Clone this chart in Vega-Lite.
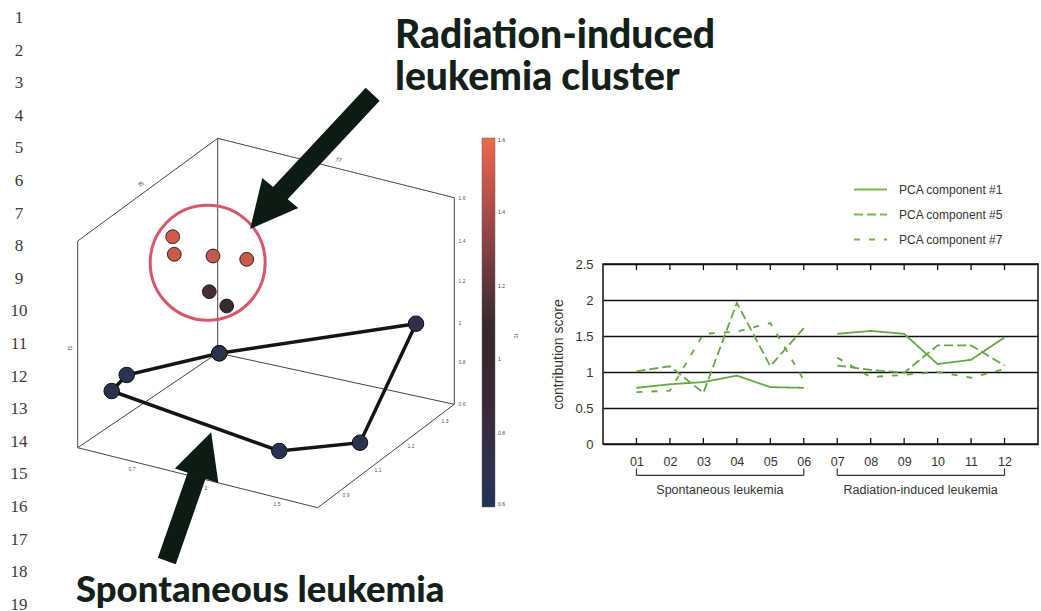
{
  "$schema": "https://vega.github.io/schema/vega-lite/v6.json",
  "padding": 0,
  "autosize": {"type": "pad"},
  "background": "white",
  "bounds": "flush",
  "spacing": 62,
  "config": {"view": {"stroke": null}, "font": "Liberation Sans"},
  "resolve": {
    "scale": {"color": "independent", "strokeDash": "independent", "x": "independent", "y": "independent"},
    "legend": {"color": "independent", "strokeDash": "independent"}
  },
  "datasets": {
    "anchor": [{"x": 0, "y": 0}],
    "lineNumbers": [
      {"n": "1", "x": 18, "y": 17}, {"n": "2", "x": 18, "y": 50}, {"n": "3", "x": 18, "y": 82},
      {"n": "4", "x": 18, "y": 115}, {"n": "5", "x": 18, "y": 147}, {"n": "6", "x": 18, "y": 180},
      {"n": "7", "x": 18, "y": 213}, {"n": "8", "x": 18, "y": 245}, {"n": "9", "x": 18, "y": 278},
      {"n": "10", "x": 18, "y": 310}, {"n": "11", "x": 18, "y": 343}, {"n": "12", "x": 18, "y": 376},
      {"n": "13", "x": 18, "y": 408}, {"n": "14", "x": 18, "y": 441}, {"n": "15", "x": 18, "y": 473},
      {"n": "16", "x": 18, "y": 506}, {"n": "17", "x": 18, "y": 539}, {"n": "18", "x": 18, "y": 571},
      {"n": "19", "x": 18, "y": 604}
    ],
    "boxEdges": [
      {"x": 216.7, "y": 137.3, "x2": 76.7, "y2": 240},
      {"x": 216.7, "y": 137.3, "x2": 453.3, "y2": 196.7},
      {"x": 216.7, "y": 137.3, "x2": 216.7, "y2": 352},
      {"x": 76.7, "y": 240, "x2": 76.7, "y2": 446.7},
      {"x": 453.3, "y": 196.7, "x2": 453.3, "y2": 403.3},
      {"x": 76.7, "y": 446.7, "x2": 316.7, "y2": 506.7},
      {"x": 316.7, "y": 506.7, "x2": 453.3, "y2": 403.3},
      {"x": 216.7, "y": 352, "x2": 76.7, "y2": 446.7},
      {"x": 216.7, "y": 352, "x2": 453.3, "y2": 403.3}
    ],
    "tickLabels": [
      {"t": "1.6", "x": 461, "y": 197}, {"t": "1.4", "x": 461, "y": 240}, {"t": "1.2", "x": 461, "y": 280},
      {"t": "1", "x": 459, "y": 322}, {"t": "0.8", "x": 461, "y": 361}, {"t": "0.6", "x": 461, "y": 403},
      {"t": "0.7", "x": 131, "y": 468}, {"t": "2", "x": 205, "y": 487}, {"t": "1.5", "x": 276, "y": 503},
      {"t": "0.9", "x": 345, "y": 494}, {"t": "1.1", "x": 377, "y": 469}, {"t": "1.2", "x": 410, "y": 445},
      {"t": "1.3", "x": 444, "y": 420}
    ],
    "nameF5": [{"t": "f5", "x": 140, "y": 183}],
    "nameF7": [{"t": "f7", "x": 338, "y": 159}],
    "nameF1": [{"t": "f1", "x": 69, "y": 347}],
    "nameBar": [{"t": "f1", "x": 515, "y": 335}],
    "spontaneous": [
      {"o": 1, "x": 218.3, "y": 352.3, "f1": 0.68},
      {"o": 2, "x": 125.7, "y": 374, "f1": 0.66},
      {"o": 3, "x": 110.7, "y": 390, "f1": 0.67},
      {"o": 4, "x": 278.3, "y": 450, "f1": 0.65},
      {"o": 5, "x": 359, "y": 441.7, "f1": 0.68},
      {"o": 6, "x": 415, "y": 322.7, "f1": 0.7},
      {"o": 7, "x": 218.3, "y": 352.3, "f1": 0.68}
    ],
    "cluster": [
      {"x": 171.7, "y": 235.7, "f1": 1.52},
      {"x": 173.3, "y": 253.3, "f1": 1.5},
      {"x": 212, "y": 255, "f1": 1.48},
      {"x": 245.7, "y": 258.3, "f1": 1.5},
      {"x": 208.3, "y": 290.7, "f1": 1.13},
      {"x": 225.7, "y": 305, "f1": 1.09}
    ],
    "ring": [{"x": 206.7, "y": 261.7}],
    "shafts": [
      {"x": 371.7, "y": 93.3, "x2": 278.3, "y2": 193.3},
      {"x": 165.8, "y": 560, "x2": 195.8, "y2": 474.2}
    ],
    "headDown": [{"x": 264.2, "y": 210}],
    "headUp": [{"x": 202.9, "y": 453}],
    "titles": [
      {"t": "Radiation-induced", "x": 394, "y": 47},
      {"t": "leukemia cluster", "x": 394, "y": 89}
    ],
    "titleBottom": [{"t": "Spontaneous leukemia", "x": 75, "y": 601}],
    "scores": [
      {"s": "01", "g": "S", "c": "PCA component #1", "v": 0.78},
      {"s": "02", "g": "S", "c": "PCA component #1", "v": 0.83},
      {"s": "03", "g": "S", "c": "PCA component #1", "v": 0.86},
      {"s": "04", "g": "S", "c": "PCA component #1", "v": 0.95},
      {"s": "05", "g": "S", "c": "PCA component #1", "v": 0.79},
      {"s": "06", "g": "S", "c": "PCA component #1", "v": 0.78},
      {"s": "07", "g": "R", "c": "PCA component #1", "v": 1.53},
      {"s": "08", "g": "R", "c": "PCA component #1", "v": 1.57},
      {"s": "09", "g": "R", "c": "PCA component #1", "v": 1.53},
      {"s": "10", "g": "R", "c": "PCA component #1", "v": 1.11},
      {"s": "11", "g": "R", "c": "PCA component #1", "v": 1.17},
      {"s": "12", "g": "R", "c": "PCA component #1", "v": 1.48},
      {"s": "01", "g": "S", "c": "PCA component #5", "v": 1.01},
      {"s": "02", "g": "S", "c": "PCA component #5", "v": 1.08},
      {"s": "03", "g": "S", "c": "PCA component #5", "v": 0.71},
      {"s": "04", "g": "S", "c": "PCA component #5", "v": 1.96},
      {"s": "05", "g": "S", "c": "PCA component #5", "v": 1.08},
      {"s": "06", "g": "S", "c": "PCA component #5", "v": 1.61},
      {"s": "07", "g": "R", "c": "PCA component #5", "v": 1.09},
      {"s": "08", "g": "R", "c": "PCA component #5", "v": 1.03},
      {"s": "09", "g": "R", "c": "PCA component #5", "v": 0.99},
      {"s": "10", "g": "R", "c": "PCA component #5", "v": 1.37},
      {"s": "11", "g": "R", "c": "PCA component #5", "v": 1.37},
      {"s": "12", "g": "R", "c": "PCA component #5", "v": 1.09},
      {"s": "01", "g": "S", "c": "PCA component #7", "v": 0.72},
      {"s": "02", "g": "S", "c": "PCA component #7", "v": 0.74},
      {"s": "03", "g": "S", "c": "PCA component #7", "v": 1.53},
      {"s": "04", "g": "S", "c": "PCA component #7", "v": 1.56},
      {"s": "05", "g": "S", "c": "PCA component #7", "v": 1.68},
      {"s": "06", "g": "S", "c": "PCA component #7", "v": 0.89},
      {"s": "07", "g": "R", "c": "PCA component #7", "v": 1.2},
      {"s": "08", "g": "R", "c": "PCA component #7", "v": 0.93},
      {"s": "09", "g": "R", "c": "PCA component #7", "v": 0.96},
      {"s": "10", "g": "R", "c": "PCA component #7", "v": 1.0},
      {"s": "11", "g": "R", "c": "PCA component #7", "v": 0.92},
      {"s": "12", "g": "R", "c": "PCA component #7", "v": 1.04}
    ],
    "marks": [
      {"s": "01", "lo": 0, "hi": 0.085, "top": 2.5, "tlo": 2.415},
      {"s": "02", "lo": 0, "hi": 0.085, "top": 2.5, "tlo": 2.415},
      {"s": "03", "lo": 0, "hi": 0.085, "top": 2.5, "tlo": 2.415},
      {"s": "04", "lo": 0, "hi": 0.085, "top": 2.5, "tlo": 2.415},
      {"s": "05", "lo": 0, "hi": 0.085, "top": 2.5, "tlo": 2.415},
      {"s": "06", "lo": 0, "hi": 0.085, "top": 2.5, "tlo": 2.415},
      {"s": "07", "lo": 0, "hi": 0.085, "top": 2.5, "tlo": 2.415},
      {"s": "08", "lo": 0, "hi": 0.085, "top": 2.5, "tlo": 2.415},
      {"s": "09", "lo": 0, "hi": 0.085, "top": 2.5, "tlo": 2.415},
      {"s": "10", "lo": 0, "hi": 0.085, "top": 2.5, "tlo": 2.415},
      {"s": "11", "lo": 0, "hi": 0.085, "top": 2.5, "tlo": 2.415},
      {"s": "12", "lo": 0, "hi": 0.085, "top": 2.5, "tlo": 2.415}
    ],
    "bracketEnds": [
      {"s": "01", "lo": -0.435, "hi": -0.34}, {"s": "06", "lo": -0.435, "hi": -0.34},
      {"s": "07", "lo": -0.435, "hi": -0.34}, {"s": "12", "lo": -0.435, "hi": -0.34}
    ],
    "brackets": [
      {"s": "01", "b": "06", "lo": -0.435, "ty": -0.633, "label": "Spontaneous leukemia", "mid": "03"},
      {"s": "07", "b": "12", "lo": -0.435, "ty": -0.633, "label": "Radiation-induced leukemia", "mid": "09"}
    ]
  },
  "hconcat": [
    {
      "width": 540,
      "height": 180,
      "view": {"stroke": null},
      "layer": [
        {
          "data": {"name": "anchor"},
          "mark": {"type": "point", "size": 1, "opacity": 0},
          "encoding": {
            "x": {"field": "x", "type": "quantitative", "scale": {"domain": [0, 540], "nice": false, "zero": false}, "axis": null},
            "y": {"field": "y", "type": "quantitative", "scale": {"domain": [263, 443], "reverse": true, "nice": false, "zero": false}, "axis": null}
          }
        },
        {
          "data": {"name": "lineNumbers"},
          "mark": {"type": "text", "font": "Liberation Serif", "fontSize": 17, "color": "#3a3a3a", "align": "center", "baseline": "middle"},
          "encoding": {
            "x": {"field": "x", "type": "quantitative", "axis": null},
            "y": {"field": "y", "type": "quantitative", "axis": null},
            "text": {"field": "n"}
          }
        },
        {
          "data": {"name": "boxEdges"},
          "mark": {"type": "rule", "color": "#444", "strokeWidth": 1},
          "encoding": {
            "x": {"field": "x", "type": "quantitative", "axis": null},
            "y": {"field": "y", "type": "quantitative", "axis": null},
            "x2": {"field": "x2"},
            "y2": {"field": "y2"}
          }
        },
        {
          "data": {"name": "tickLabels"},
          "mark": {"type": "text", "fontSize": 5, "color": "#555", "align": "center", "baseline": "middle"},
          "encoding": {
            "x": {"field": "x", "type": "quantitative", "axis": null},
            "y": {"field": "y", "type": "quantitative", "axis": null},
            "text": {"field": "t"}
          }
        },
        {
          "data": {"name": "nameF5"},
          "mark": {"type": "text", "fontSize": 6, "color": "#444", "angle": 323, "align": "center", "baseline": "middle"},
          "encoding": {"x": {"field": "x", "type": "quantitative", "axis": null}, "y": {"field": "y", "type": "quantitative", "axis": null}, "text": {"field": "t"}}
        },
        {
          "data": {"name": "nameF7"},
          "mark": {"type": "text", "fontSize": 6, "color": "#444", "angle": 14, "align": "center", "baseline": "middle"},
          "encoding": {"x": {"field": "x", "type": "quantitative", "axis": null}, "y": {"field": "y", "type": "quantitative", "axis": null}, "text": {"field": "t"}}
        },
        {
          "data": {"name": "nameF1"},
          "mark": {"type": "text", "fontSize": 6, "color": "#444", "angle": 270, "align": "center", "baseline": "middle"},
          "encoding": {"x": {"field": "x", "type": "quantitative", "axis": null}, "y": {"field": "y", "type": "quantitative", "axis": null}, "text": {"field": "t"}}
        },
        {
          "data": {"name": "nameBar"},
          "mark": {"type": "text", "fontSize": 6, "color": "#444", "angle": 90, "align": "center", "baseline": "middle"},
          "encoding": {"x": {"field": "x", "type": "quantitative", "axis": null}, "y": {"field": "y", "type": "quantitative", "axis": null}, "text": {"field": "t"}}
        },
        {
          "data": {"name": "spontaneous"},
          "mark": {"type": "line", "color": "#151515", "strokeWidth": 3.5},
          "encoding": {
            "x": {"field": "x", "type": "quantitative", "axis": null},
            "y": {"field": "y", "type": "quantitative", "axis": null},
            "order": {"field": "o", "type": "quantitative"}
          }
        },
        {
          "data": {"name": "spontaneous"},
          "mark": {"type": "point", "filled": true, "size": 240, "stroke": "#111", "strokeWidth": 1, "opacity": 1},
          "encoding": {
            "x": {"field": "x", "type": "quantitative", "axis": null},
            "y": {"field": "y", "type": "quantitative", "axis": null},
            "color": {
              "field": "f1", "type": "quantitative",
              "scale": {"domain": [0.6, 1.08, 1.6], "range": ["#1c3653", "#33282a", "#ee6a46"]},
              "legend": {
                "orient": "none", "legendX": 481, "legendY": -126, "direction": "vertical",
                "gradientLength": 369, "gradientThickness": 13, "title": null,
                "values": [0.6, 0.8, 1, 1.2, 1.4, 1.6], "format": "~g",
                "labelFontSize": 5, "labelColor": "#444", "labelOffset": 3, "labelOverlap": false,
                "gradientStrokeColor": "#666", "gradientStrokeWidth": 0.5
              }
            }
          }
        },
        {
          "data": {"name": "cluster"},
          "mark": {"type": "point", "filled": true, "size": 190, "stroke": "#222", "strokeWidth": 1, "opacity": 1},
          "encoding": {
            "x": {"field": "x", "type": "quantitative", "axis": null},
            "y": {"field": "y", "type": "quantitative", "axis": null},
            "color": {"field": "f1", "type": "quantitative"}
          }
        },
        {
          "data": {"name": "ring"},
          "mark": {"type": "point", "shape": "circle", "filled": false, "size": 13225, "stroke": "#d8566b", "strokeWidth": 3, "opacity": 1},
          "encoding": {"x": {"field": "x", "type": "quantitative", "axis": null}, "y": {"field": "y", "type": "quantitative", "axis": null}}
        },
        {
          "data": {"name": "shafts"},
          "mark": {"type": "rule", "color": "#0e1a14", "strokeWidth": 19, "strokeCap": "butt"},
          "encoding": {
            "x": {"field": "x", "type": "quantitative", "axis": null},
            "y": {"field": "y", "type": "quantitative", "axis": null},
            "x2": {"field": "x2"},
            "y2": {"field": "y2"}
          }
        },
        {
          "data": {"name": "headDown"},
          "mark": {"type": "point", "shape": "M0,-1L1,1L-1,1Z", "filled": true, "color": "#0e1a14", "size": 2200, "angle": 220, "opacity": 1},
          "encoding": {"x": {"field": "x", "type": "quantitative", "axis": null}, "y": {"field": "y", "type": "quantitative", "axis": null}}
        },
        {
          "data": {"name": "headUp"},
          "mark": {"type": "point", "shape": "M0,-1L1,1L-1,1Z", "filled": true, "color": "#0e1a14", "size": 2100, "angle": 18.5, "opacity": 1},
          "encoding": {"x": {"field": "x", "type": "quantitative", "axis": null}, "y": {"field": "y", "type": "quantitative", "axis": null}}
        },
        {
          "data": {"name": "titles"},
          "mark": {"type": "text", "font": "Lato", "fontWeight": 900, "fontSize": 39, "color": "#13211a", "align": "left", "baseline": "alphabetic"},
          "encoding": {"x": {"field": "x", "type": "quantitative", "axis": null}, "y": {"field": "y", "type": "quantitative", "axis": null}, "text": {"field": "t"}}
        },
        {
          "data": {"name": "titleBottom"},
          "mark": {"type": "text", "font": "Lato", "fontWeight": 900, "fontSize": 36.5, "color": "#13211a", "align": "left", "baseline": "alphabetic"},
          "encoding": {"x": {"field": "x", "type": "quantitative", "axis": null}, "y": {"field": "y", "type": "quantitative", "axis": null}, "text": {"field": "t"}}
        }
      ]
    },
    {
      "width": 435,
      "height": 180,
      "view": {"stroke": "#111", "strokeWidth": 1.5},
      "encoding": {
        "x": {
          "field": "s", "type": "ordinal",
          "scale": {"type": "point", "padding": 1.1, "domain": ["01","02","03","04","05","06","07","08","09","10","11","12"]},
          "axis": {"title": null, "labelAngle": 0, "labelFontSize": 12.5, "labelColor": "#333", "ticks": false, "domain": false, "labelPadding": 11}
        }
      },
      "layer": [
        {
          "data": {"name": "scores"},
          "mark": {"type": "line", "color": "#63a842", "strokeWidth": 1.8},
          "encoding": {
            "y": {
              "field": "v", "type": "quantitative",
              "scale": {"domain": [0, 2.5], "nice": false},
              "axis": {
                "tickCount": 5, "format": "~g", "grid": true, "gridColor": "#111", "gridWidth": 1.6,
                "ticks": false, "domain": false, "labelFontSize": 13, "labelColor": "#333", "labelPadding": 10, "labelOverlap": false,
                "title": "contribution score", "titleFontSize": 14, "titleFontWeight": "normal", "titleColor": "#333", "titlePadding": 9
              }
            },
            "strokeDash": {
              "field": "c", "type": "nominal",
              "scale": {"domain": ["PCA component #1", "PCA component #5", "PCA component #7"], "range": [[1, 0], [9, 4], [6, 9]]},
              "legend": {
                "orient": "none", "legendX": 250, "legendY": -92, "title": null,
                "symbolType": "stroke", "symbolStrokeColor": "#7ab548", "symbolStrokeWidth": 2, "symbolSize": 1089,
                "labelFontSize": 12, "labelColor": "#333", "labelOffset": 11, "rowPadding": 1
              }
            },
            "detail": {"field": "g"}
          }
        },
        {
          "data": {"name": "marks"},
          "mark": {"type": "rule", "color": "#111", "strokeWidth": 1.3},
          "encoding": {
            "y": {"field": "lo", "type": "quantitative"},
            "y2": {"field": "hi"}
          }
        },
        {
          "data": {"name": "marks"},
          "mark": {"type": "rule", "color": "#111", "strokeWidth": 1.3},
          "encoding": {
            "y": {"field": "top", "type": "quantitative"},
            "y2": {"field": "tlo"}
          }
        },
        {
          "data": {"name": "bracketEnds"},
          "mark": {"type": "rule", "color": "#333", "strokeWidth": 1.2},
          "encoding": {
            "y": {"field": "lo", "type": "quantitative"},
            "y2": {"field": "hi"}
          }
        },
        {
          "data": {"name": "brackets"},
          "mark": {"type": "rule", "color": "#333", "strokeWidth": 1.2},
          "encoding": {
            "x2": {"field": "b"},
            "y": {"field": "lo", "type": "quantitative"}
          }
        },
        {
          "data": {"name": "brackets"},
          "mark": {"type": "text", "fontSize": 12.5, "color": "#333", "dx": 16.5, "align": "center", "baseline": "middle"},
          "encoding": {
            "x": {"field": "mid", "type": "ordinal"},
            "y": {"field": "ty", "type": "quantitative"},
            "text": {"field": "label"}
          }
        }
      ]
    }
  ]
}
